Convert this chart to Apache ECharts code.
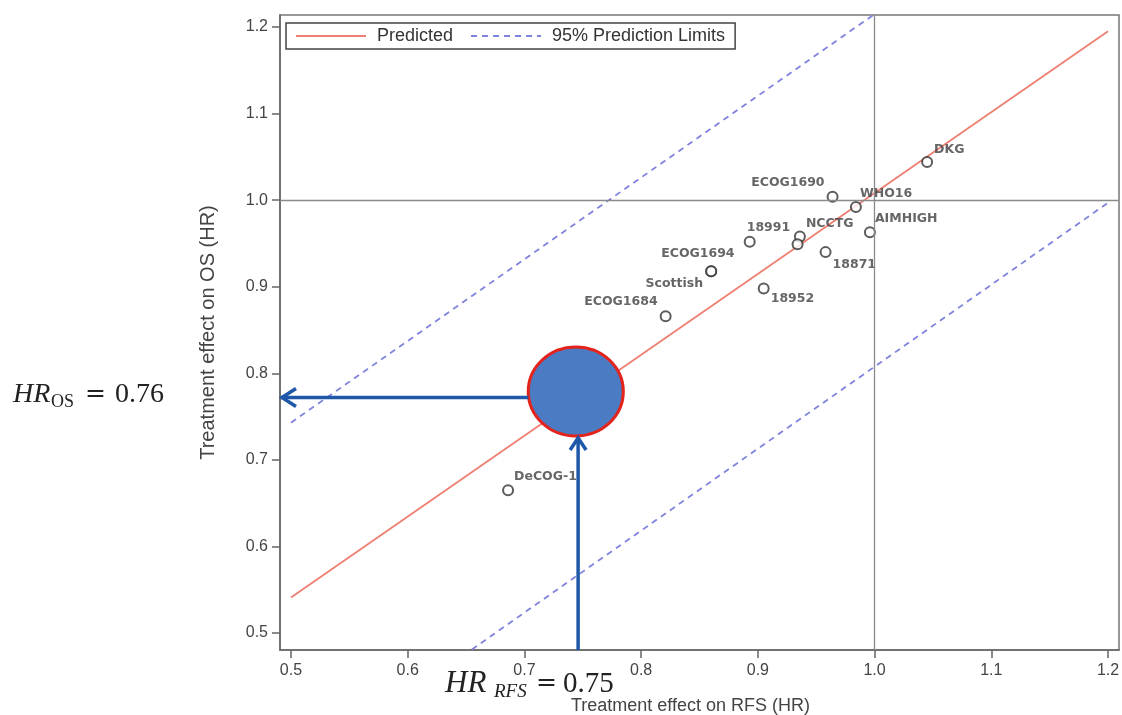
<!DOCTYPE html>
<html><head><meta charset="utf-8">
<script src="https://cdn.jsdelivr.net/npm/echarts@6/dist/echarts.min.js"></script>
<style>html,body{margin:0;padding:0;background:#fff}#c{width:1122px;height:715px}</style>
</head><body><div id="c"></div>
<script>
// ---- data ----
const studyNames = ['DKG','ECOG1690','WHO16','AIMHIGH','NCCTG','','18871','18991','ECOG1694','Scottish','18952','ECOG1684','DeCOG-1'];
const rfsHR = [1.045,0.964,0.984,0.996,0.936,0.934,0.958,0.893,0.860,0.860,0.905,0.821,0.686];
const osHR  = [1.044,1.004,0.992,0.963,0.958,0.949,0.940,0.952,0.918,0.918,0.898,0.866,0.665];
const predictedX = [0.5, 1.2];
const predictedY = [0.541, 1.195];
const upperLimitX = [0.5, 0.999];
const upperLimitY = [0.743, 1.214];
const lowerLimitX = [0.655, 1.2];
const lowerLimitY = [0.481, 0.997];
const newTrial = [0.744, 0.779];
const arrowOS = [0.4906, 0.772];     // horizontal arrow: tip x, y
const arrowRFS = [0.746, 0.4804];    // vertical arrow: x, tail y
const refLines = [1.0, 1.0];
const xTicks = [0.5,0.6,0.7,0.8,0.9,1.0,1.1,1.2];
const yTicks = [0.5,0.6,0.7,0.8,0.9,1.0,1.1,1.2];
const xExtent = [0.4906, 1.2094];
const yExtent = [0.4804, 1.2139];
const annOS = ['HR', 'OS', '=', '0.76'];
const annRFS = ['HR', 'RFS', '=', '0.75'];

// ---- label styles (layout only) ----
const labelStyle = {
  'DKG':      {align:'left',  offset:[7,-12]},
  'ECOG1690': {align:'right', offset:[-8,-14]},
  'WHO16':    {align:'left',  offset:[4,-13]},
  'AIMHIGH':  {align:'left',  offset:[5,-13]},
  'NCCTG':    {align:'left',  offset:[6,-13]},
  '18871':    {align:'left',  offset:[7,13]},
  '18991':    {align:'left',  offset:[-3,-14]},
  'ECOG1694': {align:'left',  offset:[-50,-17]},
  'Scottish': {align:'right', offset:[-8,13]},
  '18952':    {align:'left',  offset:[7,10]},
  'ECOG1684': {align:'right', offset:[-8,-14]},
  'DeCOG-1':  {align:'left',  offset:[6,-13]}
};

const zip = (a,b) => a.map((v,i)=>[v,b[i]]);
const studyData = studyNames.map((n,i)=>{
  const ls = labelStyle[n];
  return {
    name: n, value: [rfsHR[i], osHR[i]],
    label: ls ? {show:true, position:'inside', align:ls.align, verticalAlign:'middle', offset:ls.offset} : {show:false}
  };
});

const axisFont = {fontFamily:'Liberation Sans', fontSize:16, color:'#444'};
const option = {
  animation:false,
  backgroundColor:'#fff',
  grid:{left:280, right:3, top:15, bottom:65, outerBoundsMode:'none', containLabel:false,
        show:true, borderColor:'#777', borderWidth:1.5, backgroundColor:'transparent'},
  legend:{
    data:['Predicted','95% Prediction Limits'],
    left:286, top:23, orient:'horizontal',
    borderColor:'#444', borderWidth:1.5, borderRadius:0,
    padding:[4,10,4,9], itemWidth:70, itemHeight:17, itemGap:17,
    itemStyle:{opacity:0},
    textStyle:{fontFamily:'Liberation Sans', fontSize:18, color:'#333', padding:[0,0,0,6]}
  },
  xAxis:{
    type:'value', min:xExtent[0], max:xExtent[1],
    name:'Treatment effect on RFS (HR)', nameLocation:'middle', nameGap:47,
    nameTextStyle:{fontFamily:'Liberation Sans', fontSize:18, color:'#444', padding:[0,18,0,0]},
    axisLine:{show:true, onZero:false, lineStyle:{color:'#666', width:1.5}},
    axisTick:{show:true, length:8, customValues:xTicks, lineStyle:{color:'#666', width:1.5}},
    axisLabel:Object.assign({margin:13, customValues:xTicks, formatter:v=>v.toFixed(1)}, axisFont),
    splitLine:{show:false}
  },
  yAxis:{
    type:'value', min:yExtent[0], max:yExtent[1],
    name:'Treatment effect on OS (HR)', nameLocation:'middle', nameGap:62,
    nameTextStyle:{fontFamily:'Liberation Sans', fontSize:20, color:'#444'},
    axisLine:{show:true, onZero:false, lineStyle:{color:'#666', width:1.5}},
    axisTick:{show:true, length:8, customValues:yTicks, lineStyle:{color:'#666', width:1.5}},
    axisLabel:Object.assign({margin:12, customValues:yTicks, formatter:v=>v.toFixed(1)}, axisFont),
    splitLine:{show:false}
  },
  series:[
    {
      type:'line', name:'ref', data:[], silent:true,
      markLine:{silent:true, symbol:'none', label:{show:false},
        lineStyle:{color:'#8a8a8a', width:1.3, type:'solid'},
        data:[{xAxis:refLines[0]},{yAxis:refLines[1]}]}
    },
    {
      type:'line', name:'Predicted', data:zip(predictedX, predictedY),
      symbol:'none', lineStyle:{color:'#ef7f72', width:1.8}, itemStyle:{color:'#ef7f72'}, z:2
    },
    {
      type:'line', name:'95% Prediction Limits', data:zip(upperLimitX, upperLimitY),
      symbol:'none', lineStyle:{color:'#8182dd', width:1.8, type:[6,5]}, itemStyle:{color:'#8182dd'}, z:2
    },
    {
      type:'line', name:'95% Prediction Limits', data:zip(lowerLimitX, lowerLimitY),
      symbol:'none', lineStyle:{color:'#8182dd', width:1.8, type:[6,5]}, itemStyle:{color:'#8182dd'}, z:2
    },
    {
      type:'scatter', name:'studies', data:studyData,
      symbol:'emptyCircle', symbolSize:10,
      itemStyle:{color:'#333', borderColor:'#333', borderWidth:1.6},
      label:{formatter:'{b}', fontFamily:'DejaVu Sans', fontWeight:'bold', fontSize:12.5, color:'#404040'},
      z:4
    },
    {
      type:'scatter', name:'new', data:[newTrial],
      symbol:'circle', symbolSize:[95,89],
      itemStyle:{color:'#4a7bc3', borderColor:'#e3241c', borderWidth:3, opacity:1},
      z:5
    }
  ]
};

const chart = echarts.init(document.getElementById('c'), null, {renderer:'canvas'});
chart.setOption(option);

const px = (x,y) => chart.convertToPixel({gridIndex:0}, [x,y]);
const c = px(newTrial[0], newTrial[1]);
const rx = 47.5, ry = 44.5;
const hTip = px(arrowOS[0], arrowOS[1]);
const vTail = px(arrowRFS[0], arrowRFS[1]);
const blue = '#1f58a8';
const aw = 3.5;

function txt(x, y, text, size, italic, fam) {
  return {type:'text', x:x, y:y, z:100,
    style:{text:text, fontSize:size, fontFamily:fam || 'Liberation Serif', fontStyle:italic?'italic':'normal', fill:'#222', align:'left', verticalAlign:'middle'}};
}

chart.setOption({graphic:[
  // horizontal arrow (OS)
  {type:'line', z:100, shape:{x1:hTip[0]+1, y1:hTip[1], x2:c[0]-rx, y2:hTip[1]}, style:{stroke:blue, lineWidth:aw}},
  {type:'polyline', z:100, shape:{points:[[hTip[0]+16, hTip[1]-9],[hTip[0]+2, hTip[1]],[hTip[0]+16, hTip[1]+9]]}, style:{stroke:blue, lineWidth:aw, fill:null}},
  // vertical arrow (RFS)
  {type:'line', z:100, shape:{x1:vTail[0], y1:vTail[1], x2:vTail[0], y2:c[1]+ry+1}, style:{stroke:blue, lineWidth:aw}},
  {type:'polyline', z:100, shape:{points:[[vTail[0]-8, c[1]+ry+14],[vTail[0], c[1]+ry+2],[vTail[0]+8, c[1]+ry+14]]}, style:{stroke:blue, lineWidth:aw, fill:null}},
  // HR_OS annotation
  txt(13, 395, annOS[0], 28, true),
  txt(51, 402, annOS[1], 18, false),
  txt(85, 394, annOS[2], 25, false, 'DejaVu Serif'),
  txt(115, 395, annOS[3], 28, false),
  // HR_RFS annotation
  txt(445, 684, annRFS[0], 31, true),
  txt(494, 692, annRFS[1], 19, true),
  txt(536, 683, annRFS[2], 25, false, 'DejaVu Serif'),
  txt(563, 684, annRFS[3], 29, false)
]});
</script>
</body></html>
